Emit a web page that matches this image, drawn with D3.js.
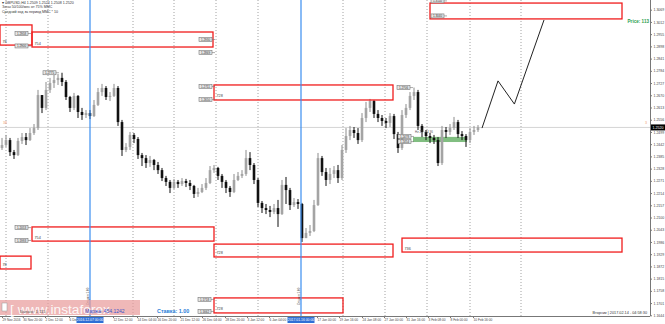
<!DOCTYPE html>
<html>
<head>
<meta charset="utf-8">
<script src="https://cdnjs.cloudflare.com/ajax/libs/d3/7.8.5/d3.min.js"></script>
<style>
  body { margin: 0; background: #fff; }
  svg { display: block; font-family: "Liberation Sans", Arial, sans-serif; }
</style>
</head>
<body>
<div id="chart"></div>
<script>
// GBPUSD H4 chart with zones

const width = 665;
const height = 324;
const plotRight = 650;
const plotBottom = 316;

// candles (open of each bar = close of previous bar)
const firstOpen = 1.2424;
const closes = [
  1.2438, 1.2461, 1.2405, 1.2391, 1.2457, 1.2475, 1.2461, 1.2494, 1.2517, 1.2671,
  1.2611, 1.2695, 1.2727, 1.2741, 1.2751, 1.2732, 1.2662, 1.2611, 1.2667, 1.2592,
  1.2578, 1.2587, 1.2573, 1.2625, 1.2685, 1.2704, 1.2662, 1.2667, 1.2704, 1.2545,
  1.2415, 1.2429, 1.2485, 1.2466, 1.2391, 1.2377, 1.2354, 1.2368, 1.2345, 1.2321,
  1.2284, 1.2266, 1.2238, 1.2266, 1.2256, 1.2270, 1.2261, 1.2247, 1.2210, 1.2219,
  1.2238, 1.2261, 1.2321, 1.2331, 1.2294, 1.2266, 1.2238, 1.2219, 1.2275, 1.2294,
  1.2303, 1.2377, 1.2345, 1.2275, 1.2168, 1.2144, 1.2135, 1.2126, 1.2144, 1.2116,
  1.2252, 1.2228, 1.2158, 1.2172, 1.2163, 1.2004, 1.2028, 1.2037, 1.2158, 1.2377,
  1.2312, 1.2275, 1.2303, 1.2321, 1.2284, 1.2415, 1.2480, 1.2508, 1.2494, 1.2461,
  1.2564, 1.2611, 1.2643, 1.2583, 1.2564, 1.2550, 1.2541, 1.2573, 1.2489, 1.2424,
  1.2578, 1.2611, 1.2667, 1.2685, 1.2527, 1.2499, 1.2480, 1.2471, 1.2461, 1.2354,
  1.2508, 1.2499, 1.2517, 1.2545, 1.2489, 1.2480, 1.2461, 1.2499, 1.2508, 1.2520
];
const highs = [
  1.2471, 1.2485, 1.2471, 1.2415, 1.2471, 1.2494, 1.2494, 1.2517, 1.2536, 1.2695,
  1.2671, 1.2732, 1.2751, 1.2765, 1.2769, 1.2775, 1.2741, 1.2667, 1.2681, 1.2671,
  1.2611, 1.2601, 1.2601, 1.2648, 1.2704, 1.2723, 1.2713, 1.2685, 1.2723, 1.2713,
  1.2555, 1.2447, 1.2499, 1.2494, 1.2475, 1.2401, 1.2391, 1.2387, 1.2373, 1.2359,
  1.2331, 1.2294, 1.2275, 1.2280, 1.2275, 1.2284, 1.2280, 1.2275, 1.2252, 1.2238,
  1.2256, 1.2284, 1.2340, 1.2345, 1.2336, 1.2303, 1.2275, 1.2247, 1.2303, 1.2312,
  1.2321, 1.2415, 1.2405, 1.2354, 1.2284, 1.2177, 1.2163, 1.2154, 1.2163, 1.2182,
  1.2275, 1.2289, 1.2238, 1.2191, 1.2186, 1.2168, 1.2051, 1.2065, 1.2182, 1.2401,
  1.2387, 1.2331, 1.2331, 1.2340, 1.2345, 1.2438, 1.2517, 1.2527, 1.2522, 1.2517,
  1.2587, 1.2639, 1.2653, 1.2648, 1.2601, 1.2578, 1.2564, 1.2587, 1.2583, 1.2499,
  1.2601, 1.2629, 1.2685, 1.2706, 1.2695, 1.2536, 1.2508, 1.2494, 1.2485, 1.2475,
  1.2527, 1.2522, 1.2536, 1.2569, 1.2555, 1.2503, 1.2489, 1.2517, 1.2527, 1.2531
];
const lows = [
  1.2415, 1.2429, 1.2387, 1.2373, 1.2387, 1.2443, 1.2438, 1.2457, 1.2485, 1.2508,
  1.2587, 1.2601, 1.2681, 1.2704, 1.2718, 1.2713, 1.2648, 1.2592, 1.2601, 1.2564,
  1.2555, 1.2564, 1.2559, 1.2569, 1.2620, 1.2667, 1.2648, 1.2643, 1.2662, 1.2527,
  1.2387, 1.2405, 1.2415, 1.2447, 1.2373, 1.2340, 1.2331, 1.2336, 1.2321, 1.2303,
  1.2270, 1.2247, 1.2214, 1.2233, 1.2238, 1.2247, 1.2242, 1.2228, 1.2191, 1.2196,
  1.2214, 1.2228, 1.2256, 1.2308, 1.2275, 1.2238, 1.2214, 1.2196, 1.2214, 1.2270,
  1.2284, 1.2294, 1.2321, 1.2256, 1.2149, 1.2121, 1.2116, 1.2102, 1.2116, 1.2056,
  1.2112, 1.2163, 1.2135, 1.2149, 1.2140, 1.1986, 1.2004, 1.2014, 1.2032, 1.2154,
  1.2294, 1.2247, 1.2256, 1.2284, 1.2261, 1.2275, 1.2401, 1.2461, 1.2471, 1.2443,
  1.2452, 1.2545, 1.2592, 1.2564, 1.2545, 1.2527, 1.2517, 1.2522, 1.2466, 1.2401,
  1.2415, 1.2564, 1.2601, 1.2648, 1.2508, 1.2475, 1.2461, 1.2447, 1.2443, 1.2340,
  1.2345, 1.2471, 1.2485, 1.2508, 1.2471, 1.2461, 1.2429, 1.2447, 1.2485, 1.2499
];
const lastPrice = 1.2520;

// price axis tick labels
const priceTicks = [
  1.3069, 1.3012, 1.2955, 1.2898, 1.2841, 1.2784, 1.2727, 1.2670, 1.2613,
  1.2556, 1.2499, 1.2442, 1.2385, 1.2328, 1.2271, 1.2214, 1.2157, 1.2100,
  1.2043, 1.1986, 1.1929, 1.1872, 1.1815, 1.1758, 1.1701, 1.1644
];

// time axis labels (bar index where each label starts)
const timeBars = [0, 5.2, 10.75, 16.75, 27.75, 33.75, 38.75, 44.5, 50, 55.75,
  61.25, 66.75, 78.75, 84.25, 90, 95.5, 101, 106.5, 112, 117.75];
const timeLabels = ["29 Nov 2016", "30 Nov 20:00", "2 Dec 12:00", "6 Dec 04:00",
  "12 Dec 12:00", "14 Dec 04:00", "16 Dec 20:00", "21 Dec 12:00", "26 Dec 04:00",
  "28 Dec 20:00", "3 Jan 12:00", "6 Jan 04:00", "17 Jan 00:00", "19 Jan 16:00",
  "24 Jan 08:00", "27 Jan 00:00", "31 Jan 16:00", "3 Feb 08:00", "8 Feb 00:00",
  "10 Feb 16:00"];

// week separators and vertical blue lines
const gridBars = [1, 11.5, 32.75, 43, 53.5, 64, 85.25, 95.75, 106.25, 117, 129.75];
const markerBars = [22, 74.75];
const markerLabels = ["2016.12.07 00:00", "2017.01.16 00:00"];

// red zones
const zoneStart = [-0.5, 7.5, 53, 7.5, -0.5, 53, 100, 107, 53];
const zoneEnd = [7.5, 52.75, 97.75, 53, 7.25, 97.75, 155, 155, 85.25];
const zoneTop = [1.2998, 1.2965, 1.2718, 1.2056, 1.1920, 1.1976, 1.2004, 1.3100, 1.1725];
const zoneBottom = [1.2904, 1.2895, 1.2648, 1.1990, 1.1860, 1.1916, 1.1939, 1.3026, 1.1655];
const zoneText = ["78", "754", "728", "754", "78", "728", "736", "", "728"];

// small price labels
const tagBars = [3.25, 3.25, 49.25, 49.25, 49.25, 49.25, 3.25, 3.25, 49, 49,
  10.25, 98.75, 99, 99, 107.25, 107.25];
const tagPrices = [1.2958, 1.2900, 1.2930, 1.2869, 1.2711, 1.2650, 1.2053, 1.1993,
  1.1718, 1.1662, 1.2775, 1.2706, 1.2478, 1.2454, 1.3040, 1.3110];

// green band
const bandBars = [102.75, 116.25];
const bandPrices = [1.2476, 1.2452];

// forecast path
const projBars = [120, 124, 128.1, 135.5];
const projPrices = [1.2517, 1.2737, 1.2629, 1.3021];

const svg = d3.select("#chart")
  .append("svg")
  .attr("width", width)
  .attr("height", height)
  .attr("viewBox", [0, 0, width, height]);

// scales
const x = d3.scaleLinear().domain([0, 119]).range([2, 478]);
const y = d3.scaleLinear()
  .domain([priceTicks[priceTicks.length - 1], priceTicks[0]])
  .range([315.3, 9.7]);

const plot = svg.append("g");

// dotted week lines
plot.selectAll(".grid")
  .data(gridBars)
  .enter()
  .append("line")
    .attr("x1", d => x(d)).attr("x2", d => x(d))
    .attr("y1", 0).attr("y2", plotBottom)
    .attr("stroke", "#8a8a8a")
    .attr("stroke-width", 0.8)
    .attr("stroke-dasharray", "1,2");

// horizontal line at last price
plot.append("line")
  .attr("x1", 0).attr("x2", plotRight)
  .attr("y1", y(lastPrice)).attr("y2", y(lastPrice))
  .attr("stroke", "#d4d4d4")
  .attr("stroke-width", 1);

// green band
plot.append("rect")
  .attr("x", x(bandBars[0]))
  .attr("y", y(bandPrices[0]))
  .attr("width", x(bandBars[1]) - x(bandBars[0]))
  .attr("height", y(bandPrices[1]) - y(bandPrices[0]))
  .attr("fill", "#6bb36b")
  .attr("opacity", 0.85);

// candles
const candles = closes.map((c, i) => ({
  open: i === 0 ? firstOpen : closes[i - 1],
  close: c, high: highs[i], low: lows[i], i: i
}));

const bars = plot.selectAll(".candle")
  .data(candles)
  .enter()
  .append("g")
  .attr("class", "candle");

bars.append("line")
  .attr("x1", d => x(d.i)).attr("x2", d => x(d.i))
  .attr("y1", d => y(d.high)).attr("y2", d => y(d.low))
  .attr("stroke", d => d.close >= d.open ? "#8c8c8c" : "#111")
  .attr("stroke-width", 1);

bars.append("rect")
  .attr("x", d => x(d.i) - 1.3)
  .attr("y", d => y(Math.max(d.open, d.close)))
  .attr("width", 2.6)
  .attr("height", d => Math.max(1, Math.abs(y(d.open) - y(d.close))))
  .attr("fill", d => d.close >= d.open ? "#a4a4a4" : "#111");

// forecast zigzag
plot.append("path")
  .datum(projBars.map((b, i) => [b, projPrices[i]]))
  .attr("fill", "none")
  .attr("stroke", "#222")
  .attr("stroke-width", 1)
  .attr("d", d3.line().x(d => x(d[0])).y(d => y(d[1])));

// red zones
plot.selectAll(".zone")
  .data(zoneStart.map((s, i) => ({s: s, e: zoneEnd[i], t: zoneTop[i], b: zoneBottom[i], txt: zoneText[i]})))
  .enter()
  .append("rect")
    .attr("x", d => x(d.s))
    .attr("y", d => y(d.t))
    .attr("width", d => x(d.e) - x(d.s))
    .attr("height", d => y(d.b) - y(d.t))
    .attr("fill", "none")
    .attr("stroke", "#f01c1c")
    .attr("stroke-width", 1.3);

plot.selectAll(".zonetxt")
  .data(zoneStart.map((s, i) => ({s: s, b: zoneBottom[i], txt: zoneText[i]})))
  .enter()
  .append("text")
    .attr("x", d => x(d.s) + 2.5)
    .attr("y", d => y(d.b) - 2.5)
    .attr("font-size", "3.8px")
    .attr("fill", "#444")
    .text(d => d.txt);

// price tags
const tags = plot.selectAll(".tag")
  .data(tagBars.map((b, i) => ({b: b, p: tagPrices[i]})))
  .enter()
  .append("g")
  .attr("transform", d => `translate(${x(d.b)},${y(d.p)})`);

tags.append("line")
  .attr("x1", 13).attr("x2", 16).attr("y1", 0).attr("y2", 0)
  .attr("stroke", "#777").attr("stroke-width", 0.6);
tags.append("rect")
  .attr("x", 0).attr("y", -2)
  .attr("width", 13).attr("height", 4)
  .attr("fill", "#e6e6e6")
  .attr("stroke", "#777")
  .attr("stroke-width", 0.6);
tags.append("text")
  .attr("x", 6.5).attr("y", 1.1)
  .attr("text-anchor", "middle")
  .attr("font-size", "3px")
  .attr("fill", "#333")
  .text(d => d.p.toFixed(4));

// small text at the band
plot.append("text")
  .attr("x", x(bandBars[0]) + 2)
  .attr("y", y(bandPrices[0]) - 4)
  .attr("font-size", "3px")
  .attr("fill", "#555")
  .text("Hz 25 :   24 36");

// blue vertical lines
plot.selectAll(".marker")
  .data(markerBars)
  .enter()
  .append("line")
    .attr("x1", d => x(d)).attr("x2", d => x(d))
    .attr("y1", 0).attr("y2", plotBottom)
    .attr("stroke", "#3a8ef0")
    .attr("stroke-width", 1.2);

plot.selectAll(".markertxt")
  .data(markerBars)
  .enter()
  .append("text")
    .attr("transform", d => `translate(${x(d) - 1},305) rotate(-90)`)
    .attr("font-size", "3px")
    .attr("fill", "#444")
    .text("Опцион 1.00");

// right price axis
svg.append("line")
  .attr("x1", plotRight + 0.5).attr("x2", plotRight + 0.5)
  .attr("y1", 0).attr("y2", plotBottom)
  .attr("stroke", "#777");

const yAxis = svg.append("g")
  .attr("transform", `translate(${plotRight},0)`)
  .call(d3.axisRight(y).tickValues(priceTicks).tickSize(2).tickPadding(1.5)
    .tickFormat(d3.format(".4f")))
  .attr("font-size", "3.5px")
  .attr("font-family", "Liberation Sans, Arial, sans-serif");
yAxis.select(".domain").remove();
yAxis.selectAll("line").attr("stroke", "#777");
yAxis.selectAll("text").attr("fill", "#444");

// last price marker
svg.append("rect")
  .attr("x", plotRight + 1).attr("y", y(lastPrice) - 3)
  .attr("width", 14).attr("height", 6)
  .attr("fill", "#000");
svg.append("text")
  .attr("x", plotRight + 2.5).attr("y", y(lastPrice) + 1.3)
  .attr("font-size", "3.6px")
  .attr("fill", "#fff")
  .text(lastPrice.toFixed(4));

// bottom time axis
svg.append("line")
  .attr("x1", 0).attr("x2", plotRight)
  .attr("y1", plotBottom + 0.5).attr("y2", plotBottom + 0.5)
  .attr("stroke", "#777");

const xAxis = svg.append("g")
  .attr("transform", `translate(0,${plotBottom})`)
  .call(d3.axisBottom(x).tickValues(timeBars).tickSize(2).tickPadding(1)
    .tickFormat((d, i) => timeLabels[i]))
  .attr("font-size", "3.2px")
  .attr("font-family", "Liberation Sans, Arial, sans-serif");
xAxis.select(".domain").remove();
xAxis.selectAll("line").attr("stroke", "#777");
xAxis.selectAll("text").attr("text-anchor", "start").attr("fill", "#444");

// highlighted times of blue lines
const hl = svg.selectAll(".hl")
  .data(markerBars)
  .enter()
  .append("g")
  .attr("transform", d => `translate(${x(d)},${plotBottom + 1})`);
hl.append("rect")
  .attr("x", -13.5).attr("y", 0)
  .attr("width", 27).attr("height", 6)
  .attr("fill", "#2f6fd6");
hl.append("text")
  .attr("y", 4.3)
  .attr("text-anchor", "middle")
  .attr("font-size", "3.4px")
  .attr("fill", "#fff")
  .text((d, i) => markerLabels[i]);

// header
const header = ["\u25BE GBPUSD,H4  1.2509 1.2524 1.2508 1.2520",
  "Зоны 50/100/мес от 75% MMC",
  "Средний ход за период MMC * 10"];
svg.selectAll(".hdr")
  .data(header)
  .enter()
  .append("text")
    .attr("x", 2)
    .attr("y", (d, i) => 4 + i * 4.4)
    .attr("font-size", "3.6px")
    .attr("fill", "#333")
    .text(d => d);

// orange markers on price line
svg.append("text").attr("x", 3).attr("y", y(lastPrice) - 3)
  .attr("font-size", "3.6px").attr("fill", "#f0a070").text("38");
svg.append("text").attr("x", 645).attr("y", y(lastPrice) - 3)
  .attr("font-size", "3.6px").attr("fill", "#f0a070").text("3");

// green price text
svg.append("text")
  .attr("x", 649).attr("y", 22.5)
  .attr("text-anchor", "end")
  .attr("font-size", "4.6px")
  .attr("font-weight", "bold")
  .attr("fill", "#2e9e4e")
  .text("Price: 113");

// watermark and footer
svg.append("rect")
  .attr("x", 0).attr("y", 300)
  .attr("width", 140).attr("height", 15)
  .attr("fill", "#e89a9a")
  .attr("opacity", 0.7);
svg.append("rect")
  .attr("x", 2).attr("y", 303)
  .attr("width", 5).attr("height", 8)
  .attr("fill", "#fff").attr("stroke", "#999").attr("stroke-width", 0.5);
svg.append("text")
  .attr("x", 10).attr("y", 314)
  .attr("font-size", "12px")
  .attr("textLength", 100)
  .attr("lengthAdjust", "spacingAndGlyphs")
  .attr("fill", "#fff")
  .attr("opacity", 0.9)
  .text("[ www.instaforex");
svg.append("text")
  .attr("x", 20).attr("y", 313)
  .attr("font-size", "4px")
  .attr("fill", "#555")
  .text("Баланс: 1 115");
svg.append("text")
  .attr("x", 85).attr("y", 312.5)
  .attr("font-size", "5px")
  .attr("fill", "#3a55c8")
  .text("Маржа: 454.1242");
svg.append("text")
  .attr("x", 157).attr("y", 313)
  .attr("font-size", "5.4px")
  .attr("font-weight", "bold")
  .attr("fill", "#2a80d8")
  .text("Ставка: 1.00");
svg.append("text")
  .attr("x", 647).attr("y", 313.5)
  .attr("text-anchor", "end")
  .attr("font-size", "3.8px")
  .attr("fill", "#333")
  .text("Вторник | 2017.02.14 - 04:58:30");
</script>
</body>
</html>
